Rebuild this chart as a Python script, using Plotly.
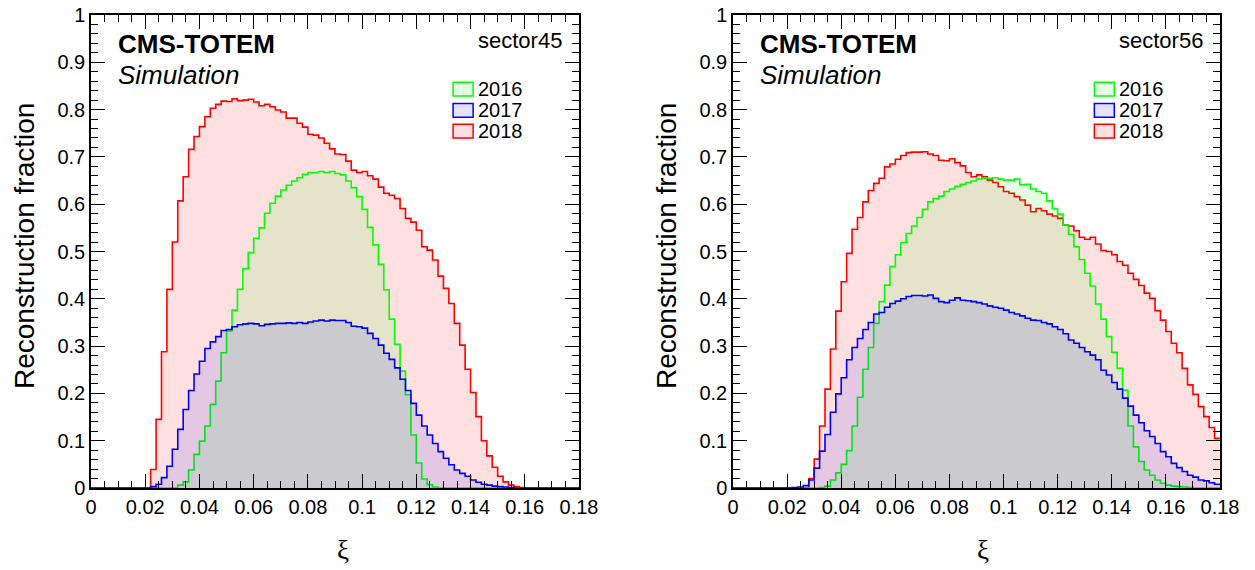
import plotly.graph_objects as go

# ---------------- data (bin width 0.002, 90 bins from 0 to 0.18) ----------------
bin_edges = [round(0.002 * i, 3) for i in range(91)]

s45_2016 = [
    0, 0, 0, 0, 0, 0, 0, 0, 0, 0,
    0, 0, 0, 0, 0, 0, 0.006, 0.013, 0.038, 0.071,
    0.099, 0.131, 0.177, 0.226, 0.286, 0.332, 0.376, 0.420, 0.464, 0.498,
    0.528, 0.550, 0.581, 0.602, 0.617, 0.630, 0.640, 0.649, 0.656, 0.663,
    0.667, 0.667, 0.669, 0.667, 0.669, 0.665, 0.662, 0.649, 0.635, 0.616,
    0.589, 0.551, 0.514, 0.473, 0.419, 0.357, 0.304, 0.247, 0.197, 0.112,
    0.053, 0.019, 0.007, 0.002, 0, 0, 0, 0, 0, 0,
    0, 0, 0, 0, 0, 0, 0, 0, 0, 0,
    0, 0, 0, 0, 0, 0, 0, 0, 0, 0,
]
s45_2017 = [
    0, 0, 0, 0, 0, 0, 0, 0, 0, 0,
    0, 0.003, 0.008, 0.022, 0.046, 0.082, 0.124, 0.166, 0.206, 0.241,
    0.268, 0.295, 0.309, 0.320, 0.333, 0.335, 0.341, 0.345, 0.347, 0.348,
    0.347, 0.343, 0.346, 0.347, 0.348, 0.348, 0.349, 0.348, 0.350, 0.348,
    0.351, 0.353, 0.355, 0.353, 0.355, 0.354, 0.354, 0.350, 0.342, 0.341,
    0.338, 0.327, 0.316, 0.302, 0.285, 0.272, 0.254, 0.230, 0.206, 0.179,
    0.154, 0.131, 0.112, 0.094, 0.077, 0.063, 0.049, 0.038, 0.031, 0.025,
    0.017, 0.012, 0.008, 0.006, 0.004, 0.003, 0.002, 0.001, 0, 0,
    0, 0, 0, 0, 0, 0, 0, 0, 0, 0,
]
s45_2018 = [
    0, 0, 0, 0, 0, 0, 0, 0, 0, 0,
    0, 0.039, 0.145, 0.288, 0.420, 0.520, 0.607, 0.658, 0.716, 0.743,
    0.764, 0.785, 0.803, 0.811, 0.818, 0.817, 0.823, 0.819, 0.820, 0.822,
    0.816, 0.808, 0.811, 0.806, 0.799, 0.795, 0.782, 0.782, 0.771, 0.763,
    0.748, 0.746, 0.740, 0.729, 0.717, 0.706, 0.705, 0.691, 0.672, 0.667,
    0.669, 0.660, 0.653, 0.636, 0.623, 0.619, 0.612, 0.591, 0.570, 0.562,
    0.545, 0.510, 0.503, 0.482, 0.448, 0.422, 0.390, 0.348, 0.302, 0.251,
    0.202, 0.151, 0.100, 0.068, 0.044, 0.025, 0.013, 0.006, 0.003, 0.001,
    0, 0, 0, 0, 0, 0, 0, 0, 0, 0,
]

s56_2016 = [
    0, 0, 0, 0, 0, 0, 0, 0, 0, 0,
    0, 0, 0, 0, 0, 0, 0.001, 0.004, 0.017, 0.032,
    0.050, 0.079, 0.131, 0.192, 0.251, 0.297, 0.348, 0.394, 0.429, 0.468,
    0.493, 0.519, 0.538, 0.554, 0.572, 0.589, 0.605, 0.612, 0.617, 0.627,
    0.632, 0.638, 0.642, 0.646, 0.649, 0.653, 0.655, 0.655, 0.656, 0.653,
    0.651, 0.651, 0.653, 0.641, 0.642, 0.632, 0.627, 0.623, 0.607, 0.591,
    0.579, 0.556, 0.536, 0.510, 0.483, 0.454, 0.427, 0.389, 0.357, 0.320,
    0.287, 0.253, 0.207, 0.131, 0.087, 0.056, 0.038, 0.027, 0.017, 0.010,
    0.006, 0.004, 0.003, 0.002, 0.001, 0, 0, 0, 0, 0,
]
s56_2017 = [
    0, 0, 0, 0, 0, 0, 0, 0, 0, 0,
    0, 0.001, 0.002, 0.005, 0.017, 0.042, 0.078, 0.113, 0.160, 0.199,
    0.233, 0.271, 0.297, 0.316, 0.335, 0.350, 0.368, 0.371, 0.382, 0.390,
    0.395, 0.400, 0.405, 0.407, 0.407, 0.406, 0.408, 0.401, 0.394, 0.392,
    0.397, 0.402, 0.397, 0.396, 0.394, 0.392, 0.389, 0.385, 0.382, 0.380,
    0.376, 0.371, 0.368, 0.364, 0.359, 0.355, 0.354, 0.350, 0.347, 0.341,
    0.335, 0.326, 0.313, 0.306, 0.297, 0.288, 0.281, 0.271, 0.249, 0.239,
    0.223, 0.209, 0.190, 0.173, 0.154, 0.138, 0.121, 0.109, 0.094, 0.077,
    0.066, 0.052, 0.043, 0.035, 0.027, 0.023, 0.017, 0.015, 0.011, 0.008,
]
s56_2018 = [
    0, 0, 0, 0, 0, 0, 0, 0, 0, 0,
    0, 0, 0, 0, 0.020, 0.061, 0.131, 0.209, 0.294, 0.374,
    0.436, 0.496, 0.547, 0.572, 0.605, 0.629, 0.644, 0.655, 0.679, 0.685,
    0.695, 0.703, 0.709, 0.710, 0.710, 0.711, 0.706, 0.703, 0.693, 0.692,
    0.696, 0.688, 0.681, 0.667, 0.658, 0.662, 0.658, 0.651, 0.646, 0.637,
    0.627, 0.623, 0.616, 0.609, 0.598, 0.584, 0.591, 0.586, 0.579, 0.575,
    0.570, 0.556, 0.554, 0.544, 0.530, 0.526, 0.530, 0.516, 0.502, 0.500,
    0.493, 0.479, 0.471, 0.454, 0.441, 0.428, 0.412, 0.401, 0.375, 0.355,
    0.331, 0.306, 0.286, 0.253, 0.218, 0.198, 0.172, 0.151, 0.128, 0.105,
]

years = ["2016", "2017", "2018"]
panels = ["sector45", "sector56"]
x_ticks = [0, 0.02, 0.04, 0.06, 0.08, 0.1, 0.12, 0.14, 0.16, 0.18]
y_ticks = [0, 0.1, 0.2, 0.3, 0.4, 0.5, 0.6, 0.7, 0.8, 0.9, 1]

panel_data = {
    "sector45": {"2016": s45_2016, "2017": s45_2017, "2018": s45_2018},
    "sector56": {"2016": s56_2016, "2017": s56_2017, "2018": s56_2018},
}

# ---------------- styles ----------------
line_col = {"2016": "rgb(0,255,0)", "2017": "rgb(0,0,255)", "2018": "rgb(255,0,0)"}
fill_col = {"2016": "rgba(0,255,0,0.10)", "2017": "rgba(0,0,255,0.11)", "2018": "rgba(255,0,0,0.12)"}
draw_order = ["2018", "2016", "2017"]
FONT = "Liberation Sans"

W, H = 1255, 570
x_domains = [[91 / W, 579 / W], [733 / W, 1220 / W]]
y_domain = [(H - 488) / H, (H - 15) / H]

fig = go.Figure()

for p_i, panel in enumerate(panels):
    xa = "x" if p_i == 0 else "x2"
    ya = "y" if p_i == 0 else "y2"
    for yr in draw_order:
        vals = panel_data[panel][yr]
        xs = bin_edges[:-1] + [bin_edges[-1]]
        ys = list(vals) + [vals[-1]]
        fig.add_trace(go.Scatter(
            x=xs, y=ys, xaxis=xa, yaxis=ya,
            mode="lines", line=dict(color=line_col[yr], width=1.6, shape="hv"),
            fill="tozeroy", fillcolor=fill_col[yr],
            showlegend=False, hoverinfo="skip",
        ))

axis_common = dict(
    showgrid=False, zeroline=False, showline=True, linecolor="black", linewidth=1.5,
    mirror="allticks", ticks="inside", ticklen=14, tickwidth=1, tickcolor="black",
    tickfont=dict(family=FONT, size=20, color="black"), automargin=False,
)

layout = dict(
    template="none",
    width=W, height=H, autosize=False,
    margin=dict(l=0, r=0, t=0, b=0, pad=0, autoexpand=False),
    paper_bgcolor="white", plot_bgcolor="white",
    showlegend=False,
)
for p_i in range(2):
    sx = "" if p_i == 0 else "2"
    layout["xaxis" + sx] = dict(
        axis_common, domain=x_domains[p_i], range=[0, 0.18],
        tickmode="array", tickvals=x_ticks, ticktext=[f"{v:g}" for v in x_ticks],
        minor=dict(dtick=0.005, tick0=0, ticks="inside", ticklen=7, tickwidth=1,
                   tickcolor="black", showgrid=False),
        anchor="y" + sx,
    )
    layout["yaxis" + sx] = dict(
        axis_common, domain=y_domain, range=[0, 1],
        tickmode="array", tickvals=y_ticks, ticktext=[f"{v:g}" for v in y_ticks],
        minor=dict(dtick=0.02, tick0=0, ticks="inside", ticklen=7, tickwidth=1,
                   tickcolor="black", showgrid=False),
        anchor="x" + sx,
    )
fig.update_layout(**layout)

annotations = []
shapes = []
legend_rows = [("2016", 0.858, 0.829), ("2017", 0.813, 0.784), ("2018", 0.769, 0.740)]
for p_i, panel in enumerate(panels):
    sx = "" if p_i == 0 else "2"
    xr, yr_ = "x" + sx + " domain", "y" + sx + " domain"
    annotations.append(dict(xref=xr, yref=yr_, x=0.052, y=0.939, text="<b>CMS-TOTEM</b>",
                            showarrow=False, xanchor="left", yanchor="middle",
                            font=dict(family=FONT, size=26, color="black")))
    annotations.append(dict(xref=xr, yref=yr_, x=0.052, y=0.873, text="<i>Simulation</i>",
                            showarrow=False, xanchor="left", yanchor="middle",
                            font=dict(family=FONT, size=26, color="black")))
    annotations.append(dict(xref=xr, yref=yr_, x=0.970, y=0.947, text=panel,
                            showarrow=False, xanchor="right", yanchor="middle",
                            font=dict(family=FONT, size=22, color="black")))
    for yr, top, bot in legend_rows:
        shapes.append(dict(type="rect", xref=xr, yref=yr_, x0=0.742, x1=0.783, y0=bot, y1=top,
                           fillcolor=fill_col[yr], line=dict(color=line_col[yr], width=1.5)))
        annotations.append(dict(xref=xr, yref=yr_, x=0.788, y=(top + bot) / 2, text=yr,
                                showarrow=False, xanchor="left", yanchor="middle",
                                font=dict(family=FONT, size=20, color="black")))

# axis titles
for cx in (343, 983):
    annotations.append(dict(xref="paper", yref="paper", x=cx / W, y=(H - 550) / H, text="ξ",
                            showarrow=False, xanchor="center", yanchor="middle",
                            font=dict(family="Liberation Serif", size=27, color="black")))
for cx in (24, 666):
    annotations.append(dict(xref="paper", yref="paper", x=cx / W, y=(H - 246) / H,
                            text="Reconstruction fraction", textangle=-90,
                            showarrow=False, xanchor="center", yanchor="middle",
                            font=dict(family=FONT, size=28, color="black")))

fig.update_layout(annotations=annotations, shapes=shapes)
fig.write_html("out.html")
